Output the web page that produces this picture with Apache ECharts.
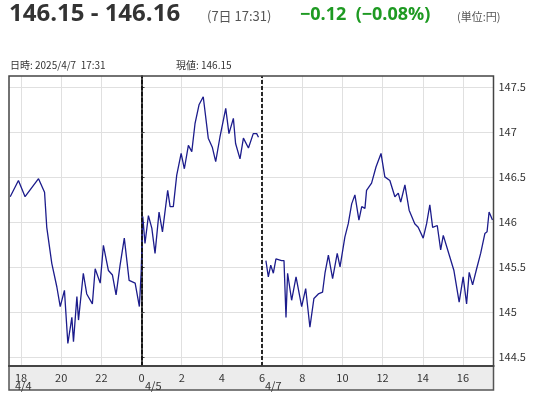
<!DOCTYPE html>
<html lang="ja">
<head>
    <meta charset="UTF-8">
    <title>USD/JPY</title>
    <style>
        html, body { margin: 0; padding: 0; background: #fff; }
        #chart { width: 547px; height: 400px; }
    </style>
    <script src="https://cdn.jsdelivr.net/npm/echarts@6/dist/echarts.min.js"></script>
</head>
<body>
    <div id="chart"></div>
    <script>
        // 時間軸: 4/5 0:00 を 0 とした時間。4/7 分はその日の時刻をそのまま使う
        const xTicks = [-6, -4, -2, 0, 2, 4, 6, 8, 10, 12, 14, 16];
        const yTicks = [144.5, 145, 145.5, 146, 146.5, 147, 147.5];
        const sessionBreaks = [0, 5.97];

        const fridayHours = [-6.54, -6.13, -5.8, -5.13, -4.83, -4.72, -4.47, -4.22, -4.05, -3.84, -3.67, -3.47, -3.39, -3.22, -3.14, -2.9, -2.73, -2.45, -2.31, -2.06, -1.9, -1.65, -1.45, -1.27, -1.07, -0.86, -0.62, -0.32, -0.11, -0.02,
            0.06, 0.17, 0.34, 0.51, 0.67, 0.87, 1.04, 1.3, 1.42, 1.58, 1.75, 1.97, 2.13, 2.33, 2.5, 2.66, 2.86, 3.07, 3.32, 3.52, 3.69, 3.9, 4.19, 4.35, 4.57, 4.68, 4.9, 5.07, 5.32, 5.56, 5.73, 5.82];
        const fridayRates = [146.28, 146.46, 146.28, 146.48, 146.33, 145.94, 145.54, 145.28, 145.06, 145.24, 144.65, 144.94, 144.67, 145.17, 144.91, 145.43, 145.20, 145.09, 145.48, 145.32, 145.74, 145.46, 145.41, 145.19, 145.52, 145.82, 145.35, 145.32, 145.06, 145.44,
            146.06, 145.76, 146.07, 145.93, 145.65, 146.11, 145.89, 146.35, 146.17, 146.17, 146.52, 146.76, 146.59, 146.85, 146.78, 147.09, 147.30, 147.39, 146.93, 146.83, 146.67, 146.94, 147.26, 146.98, 147.15, 146.87, 146.70, 146.93, 146.82, 146.98, 146.98, 146.94];

        const mondayHours = [6.19, 6.31, 6.43, 6.56, 6.69, 6.97, 7.09, 7.19, 7.27, 7.47, 7.69, 7.97, 8.17, 8.38, 8.58, 8.8, 9.01, 9.13, 9.3, 9.51, 9.74, 9.88, 10.12, 10.29, 10.46, 10.62, 10.82, 10.96, 11.12, 11.2, 11.45, 11.67, 11.92, 12.11, 12.36, 12.61, 12.78, 12.9, 13.11, 13.32, 13.6, 13.77, 14.02, 14.19, 14.35, 14.49, 14.72, 14.89, 15.02, 15.32, 15.55, 15.81, 16.01, 16.18, 16.31, 16.48, 16.68, 16.88, 17.09, 17.2, 17.3, 17.47];
        const mondayRates = [145.57, 145.39, 145.52, 145.43, 145.59, 145.57, 145.57, 144.94, 145.43, 145.13, 145.39, 145.06, 145.26, 144.83, 145.15, 145.20, 145.22, 145.43, 145.63, 145.37, 145.65, 145.50, 145.83, 145.98, 146.20, 146.30, 146.02, 146.17, 146.15, 146.35, 146.43, 146.61, 146.76, 146.50, 146.46, 146.28, 146.32, 146.22, 146.41, 146.13, 145.98, 145.94, 145.82, 145.98, 146.19, 145.94, 145.96, 145.69, 145.85, 145.63, 145.46, 145.11, 145.39, 145.09, 145.44, 145.30, 145.48, 145.65, 145.87, 145.89, 146.11, 146.02];

        const zip = (xs, ys) => xs.map((x, i) => [x, ys[i]]);
        const jp = '"Noto Sans CJK JP", "Noto Sans", sans-serif';
        const head = '"Open Sans", "Noto Sans CJK JP", sans-serif';

        const chart = echarts.init(document.getElementById('chart'));
        chart.setOption({
            animation: false,
            grid: { left: 9, right: 53.5, top: 76, height: 290 },
            xAxis: {
                type: 'value',
                min: -6.6,
                max: 17.52,
                axisLine: { show: true, onZero: false, lineStyle: { color: '#444', width: 2 } },
                axisTick: { show: false, customValues: xTicks },
                axisLabel: {
                    customValues: xTicks,
                    color: '#333',
                    fontSize: 11,
                    fontFamily: jp,
                    margin: 6,
                    formatter: v => String((v + 24) % 24)
                },
                splitLine: { show: true, lineStyle: { color: '#e0e0e0' } }
            },
            yAxis: {
                type: 'value',
                position: 'right',
                min: 144.40,
                max: 147.62,
                axisLine: { show: true, lineStyle: { color: '#444', width: 2 } },
                axisTick: { show: true, customValues: yTicks, length: 3, lineStyle: { color: '#444' } },
                axisLabel: { customValues: yTicks, color: '#333', fontSize: 11, fontFamily: jp, margin: 5 },
                splitLine: { show: true, lineStyle: { color: '#e0e0e0' } }
            },
            graphic: [
                { type: 'rect', z: -1, shape: { x: 9, y: 366, width: 484.5, height: 24 }, style: { fill: '#ececec', stroke: '#555', lineWidth: 1.5 } },
                { type: 'rect', z: 10, shape: { x: 9, y: 76, width: 484.5, height: 290 }, style: { fill: 'none', stroke: '#444', lineWidth: 1.5 } },
                { type: 'text', left: 9, top: 2, style: { text: '146.15 - 146.16', font: 'bold 24px ' + head, fill: '#333' } },
                { type: 'text', left: 207, top: 10, style: { text: '(7日 17:31)', font: '13px ' + jp, fill: '#555' } },
                { type: 'text', left: 300, top: 6, style: { text: '−0.12  (−0.08%)', font: 'bold 18px ' + head, fill: '#1e9a22' } },
                { type: 'text', left: 457, top: 11, style: { text: '(単位:円)', font: '11px ' + jp, fill: '#555' } },
                { type: 'text', left: 10, top: 60, style: { text: '日時: 2025/4/7  17:31', font: '10px ' + jp, fill: '#333' } },
                { type: 'text', left: 176, top: 60, style: { text: '現値: 146.15', font: '10px ' + jp, fill: '#333' } },
                { type: 'text', left: 15, top: 380, style: { text: '4/4', font: '11px ' + jp, fill: '#333' } },
                { type: 'text', left: 145, top: 380, style: { text: '4/5', font: '11px ' + jp, fill: '#333' } },
                { type: 'text', left: 265, top: 380, style: { text: '4/7', font: '11px ' + jp, fill: '#333' } }
            ],
            series: [
                {
                    type: 'line',
                    data: zip(fridayHours, fridayRates),
                    showSymbol: false,
                    lineStyle: { color: '#1c1c8c', width: 1.3 },
                    markLine: {
                        silent: true,
                        symbol: 'none',
                        label: { show: false },
                        lineStyle: { color: '#111', type: [4, 2], width: 1.8 },
                        data: sessionBreaks.map(x => ({ xAxis: x }))
                    }
                },
                {
                    type: 'line',
                    data: zip(mondayHours, mondayRates),
                    showSymbol: false,
                    lineStyle: { color: '#1c1c8c', width: 1.3 }
                }
            ]
        });
    </script>
</body>
</html>
